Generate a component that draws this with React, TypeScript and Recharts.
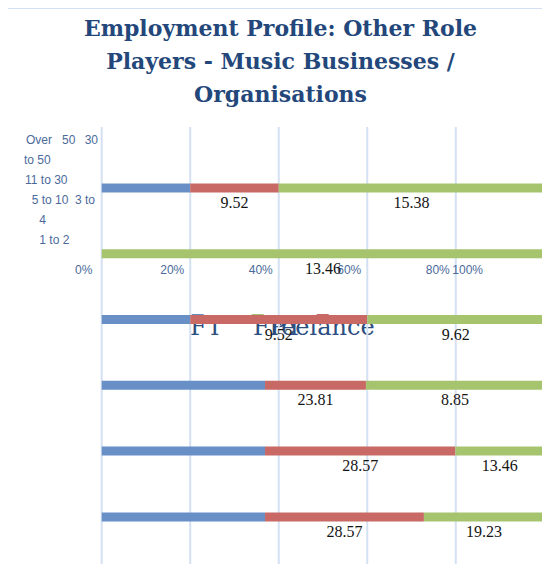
import React from 'react';
import { BarChart, Bar, XAxis, YAxis, CartesianGrid, Legend, LabelList } from 'recharts';

// ---- data (top row first) ----
const categories = ['Over 50', '30 to 50', '11 to 30', '5 to 10', '3 to 4', '1 to 2'];
const ftShare = [20, 0, 20, 36.9, 36.9, 36.9];
const ptShare = [20, 0, 40, 22.8, 43.0, 35.9];
const freelanceShare = [60, 100, 40, 40.3, 20.1, 27.2];
const ptLabels: (number | null)[] = [9.52, null, 9.52, 23.81, 28.57, 28.57];
const freelanceLabels: (number | null)[] = [15.38, 13.46, 9.62, 8.85, 13.46, 19.23];
const xTicks = [0, 20, 40, 60, 80, 100];
const seriesNames = ['FT', 'PT', 'Freelance'];
const titleLines = ['Employment Profile: Other Role', 'Players - Music Businesses /', 'Organisations'];

const data = categories.map((cat, i) => ({
  cat,
  ft: ftShare[i],
  pt: ptShare[i],
  fl: freelanceShare[i],
  ptLabel: ptLabels[i],
  flLabel: freelanceLabels[i],
}));

// ---- styles ----
const BLUE = '#6890C7';
const RED = '#C86966';
const GREEN = '#A6C46E';
const GRID = '#D4E1F2';
const AXIS_TEXT = '#4B6A9B';
const TITLE = '#23477A';
const LEGEND_TEXT = '#2D4E80';

const W = 542;
const H = 564;

const XTick = (props: any) => {
  const { x, payload } = props;
  const v = payload.value;
  const last = v === 100;
  return (
    <text
      x={last ? x - 92 : x - 18}
      y={265.5}
      textAnchor={last ? 'start' : 'middle'}
      fill={AXIS_TEXT}
      fontSize={12}
      fontFamily="Liberation Sans, Arial, sans-serif"
    >
      {v}%
    </text>
  );
};

// garbled wrapping of the category labels: [line, x, firstWord, lastWordExclusive]
const Y_LAYOUT: number[][][] = [
  [[0, 18, 0, 1], [0, 54, 1, 2]],
  [[0, 76.7, 0, 1], [1, 16, 1, 3]],
  [[2, 17, 0, 3]],
  [[3, 23.7, 0, 3]],
  [[3, 67, 0, 2], [4, 31.3, 2, 3]],
  [[5, 31.3, 0, 3]],
];

const YTick = (props: any) => {
  const { payload } = props;
  const idx = categories.indexOf(payload.value);
  if (idx < 0) return null;
  const words = String(payload.value).split(' ');
  return (
    <g>
      {Y_LAYOUT[idx].map(([line, x, a, b], k) => (
        <text
          key={k}
          x={x}
          y={136 + 19.9 * line}
          fill={AXIS_TEXT}
          fontSize={12}
          fontFamily="Liberation Sans, Arial, sans-serif"
        >
          {words.slice(a, b).join(' ')}
        </text>
      ))}
    </g>
  );
};

const renderValueLabel = (props: any) => {
  const { x, y, width, height, value } = props;
  if (value === null || value === undefined || value === '') return null;
  return (
    <text
      x={Number(x) + Number(width) / 2}
      y={Number(y) + Number(height) / 2 + 20}
      textAnchor="middle"
      fill="#141414"
      fontSize={16}
      fontFamily="Liberation Serif, Times New Roman, serif"
    >
      {Number(value).toFixed(2)}
    </text>
  );
};

const LEGEND_MARKER_X = [183.7, 243.7, 308.7];
const LEGEND_TEXT_X = [182, 245, 262];

const LegendContent = (props: any) => {
  const payload = props.payload || [];
  return (
    <div style={{ position: 'relative', width: 0, height: 0 }}>
      <svg width={W} height={H} style={{ position: 'absolute', left: 0, top: 0, overflow: 'visible' }}>
        {payload.map((p: any, i: number) => (
          <g key={i}>
            <rect x={LEGEND_MARKER_X[i]} y={306} width={12} height={9} fill={p.color} />
            <text
              x={LEGEND_TEXT_X[i]}
              y={327}
              fill={LEGEND_TEXT}
              fontSize={24}
              fontFamily="DejaVu Serif, serif"
            >
              {p.value}
            </text>
          </g>
        ))}
      </svg>
    </div>
  );
};

export default function App() {
  return (
    <div style={{ position: 'relative', width: W, height: H, marginBottom: -8 }}>
      <div
        style={{
          position: 'absolute',
          left: -2,
          top: -1,
          width: 544,
          height: 565,
          borderTop: `2px solid ${GRID}`,
          borderLeft: `2px solid ${GRID}`,
          boxSizing: 'border-box',
        }}
      />
      <BarChart
        width={W}
        height={H}
        data={data}
        layout="vertical"
        margin={{ top: 99, right: 5.7, bottom: 0, left: 13.7 }}
        barSize={9}
      >
        <CartesianGrid vertical horizontal={false} stroke={GRID} strokeWidth={2} />
        <XAxis
          type="number"
          orientation="top"
          domain={[0, 100]}
          ticks={xTicks}
          height={20}
          axisLine={false}
          tickLine={false}
          tick={<XTick />}
          interval={0}
        />
        <YAxis
          type="category"
          dataKey="cat"
          width={80}
          axisLine={false}
          tickLine={false}
          padding={{ top: 28.4, bottom: 21.8 }}
          tick={<YTick />}
          interval={0}
        />
        <Legend
          content={<LegendContent />}
          wrapperStyle={{ position: 'absolute', left: 0, top: 0, width: 0, height: 0, zIndex: -1 }}
        />
        <Bar dataKey="ft" name={seriesNames[0]} stackId="s" fill={BLUE} isAnimationActive={false} />
        <Bar dataKey="pt" name={seriesNames[1]} stackId="s" fill={RED} isAnimationActive={false}>
          <LabelList dataKey="ptLabel" content={renderValueLabel} />
        </Bar>
        <Bar dataKey="fl" name={seriesNames[2]} stackId="s" fill={GREEN} isAnimationActive={false}>
          <LabelList dataKey="flLabel" content={renderValueLabel} />
        </Bar>
      </BarChart>
      <svg
        width={550}
        height={120}
        style={{ position: 'absolute', left: -8, top: -8, pointerEvents: 'none' }}
      >
        {titleLines.map((t, i) => (
          <text
            key={i}
            x={280.5}
            y={36.3 + 32.9 * i}
            textAnchor="middle"
            fill={TITLE}
            fontSize={22}
            fontWeight="bold"
            fontFamily="DejaVu Serif, serif"
          >
            {t}
          </text>
        ))}
      </svg>
    </div>
  );
}
